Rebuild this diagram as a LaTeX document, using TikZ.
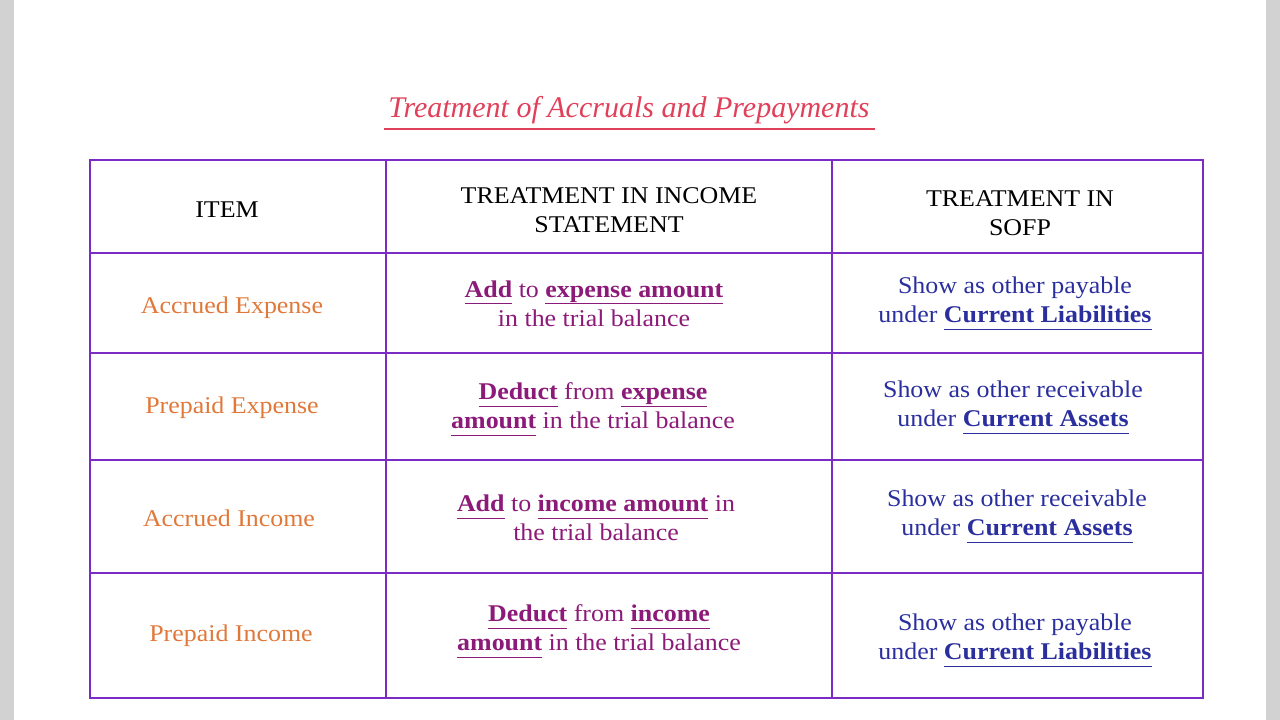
\documentclass[tikz,border=0pt]{standalone}
\usepackage{fontspec}
\setmainfont{Liberation Serif}[FakeStretch=1.08]
\newfontfamily\titlefont{Liberation Serif}
\definecolor{grid}{HTML}{7A2CC4}
\definecolor{itemc}{HTML}{E0783A}
\definecolor{midc}{HTML}{8C1A78}
\definecolor{rightc}{HTML}{2B2F9E}
\definecolor{titlec}{HTML}{E0405A}
\newcommand{\ub}[1]{\underline{\smash{\textbf{#1}}\vphantom{p}}}
\begin{document}
\begin{tikzpicture}[x=1pt,y=-1pt,
  cell/.style={align=center,font=\fontsize{24}{29}\selectfont},
  hdr/.style={cell,text=black},
  itm/.style={cell,text=itemc},
  mid/.style={cell,text=midc},
  rgt/.style={cell,text=rightc}]
\useasboundingbox (0,0) rectangle (1280,720);
\fill[gray!35] (0,0) rectangle (14,720);
\fill[gray!35] (1266,0) rectangle (1280,720);
\node[text=titlec,font=\titlefont\fontsize{30}{34}\itshape\selectfont] (title) at (629,110) {Treatment of Accruals and Prepayments};
\draw[titlec,line width=1.5pt] (384,129) -- (875,129);
\begin{scope}[grid,line width=1.8pt]
\draw (90,160) rectangle (1203,698);
\foreach \yy in {253,353,460,573} \draw (90,\yy) -- (1203,\yy);
\foreach \xx in {386,832} \draw (\xx,160) -- (\xx,698);
\end{scope}
\node[hdr] (h1) at (227,210) {ITEM};
\node[hdr] (h2) at (609,210) {TREATMENT IN INCOME\\STATEMENT};
\node[hdr] (h3) at (1020,213) {TREATMENT IN\\SOFP};
\node[itm] (i1) at (232,308) {Accrued Expense};
\node[itm] (i2) at (232,408) {Prepaid Expense};
\node[itm] (i3) at (229,518) {Accrued Income};
\node[itm] (i4) at (231,636) {Prepaid Income};
\node[mid] (m1) at (594,305) {\ub{Add} to \ub{expense amount}\\in the trial balance};
\node[mid] (m2) at (593,409) {\ub{Deduct} from \ub{expense}\\\ub{amount} in the trial balance};
\node[mid] (m3) at (596,518) {\ub{Add} to \ub{income amount} in\\the trial balance};
\node[mid] (m4) at (599,631) {\ub{Deduct} from \ub{income}\\\ub{amount} in the trial balance};
\node[rgt] (r1) at (1015,303) {Show as other payable\\under \ub{Current Liabilities}};
\node[rgt] (r2) at (1013,407) {Show as other receivable\\under \ub{Current Assets}};
\node[rgt] (r3) at (1017,516) {Show as other receivable\\under \ub{Current Assets}};
\node[rgt] (r4) at (1015,640) {Show as other payable\\under \ub{Current Liabilities}};
\end{tikzpicture}
\end{document}
